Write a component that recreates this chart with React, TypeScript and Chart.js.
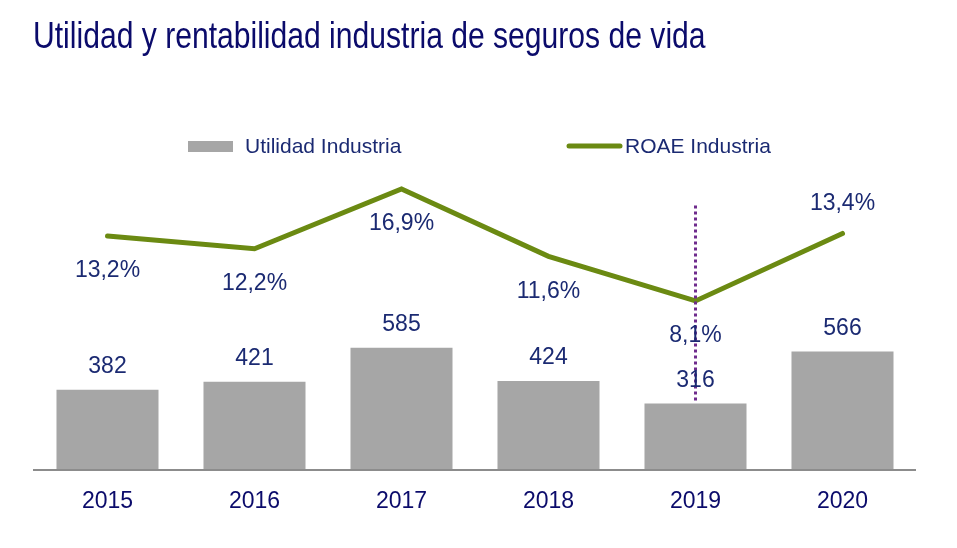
import React, { useEffect, useRef } from "react";
import { Chart, registerables } from "chart.js";

Chart.register(...registerables);

const years = ["2015", "2016", "2017", "2018", "2019", "2020"];
const utilidad = [382, 421, 585, 424, 316, 566];
const roae = [13.2, 12.2, 16.9, 11.6, 8.1, 13.4];
const roaeLabels = ["13,2%", "12,2%", "16,9%", "11,6%", "8,1%", "13,4%"];
const roaeLabelAbove = [false, false, false, false, false, true];
const markerIndex = 4;
const markerTopValue = 15.6;

const TITLE = "Utilidad y rentabilidad industria de seguros de vida";
const NAVY = "#1b2a72";
const TITLE_NAVY = "#0b0b6b";
const GREY = "#a6a6a6";
const GREEN = "#6b8a12";
const PURPLE = "#6e2b8c";
const SANS = "'Liberation Sans', Arial, sans-serif";

const overlay = {
  id: "overlay",
  afterDraw(chart: any) {
    const ctx = chart.ctx;
    const area = chart.chartArea;
    const xs = chart.scales.x;
    const y1 = chart.scales.y1;
    ctx.save();
    // title (condensed)
    ctx.save();
    ctx.fillStyle = TITLE_NAVY;
    ctx.font = `36px ${SANS}`;
    ctx.textAlign = "left";
    ctx.textBaseline = "alphabetic";
    ctx.translate(33, 48);
    ctx.scale(0.836, 1);
    ctx.fillText(TITLE, 0, 0);
    ctx.restore();

    // legend
    ctx.fillStyle = GREY;
    ctx.fillRect(188, 141, 45, 11);
    ctx.fillStyle = NAVY;
    ctx.font = `21px ${SANS}`;
    ctx.textAlign = "left";
    ctx.textBaseline = "middle";
    ctx.fillText("Utilidad Industria", 245, 147);
    ctx.strokeStyle = GREEN;
    ctx.lineWidth = 5;
    ctx.lineCap = "round";
    ctx.beginPath();
    ctx.moveTo(569, 146);
    ctx.lineTo(620, 146);
    ctx.stroke();
    ctx.fillText("ROAE Industria", 625, 147);

    // axis line
    ctx.strokeStyle = "#8c8c8c";
    ctx.lineWidth = 2;
    ctx.lineCap = "butt";
    ctx.beginPath();
    ctx.moveTo(area.left - 1, area.bottom + 1);
    ctx.lineTo(area.right, area.bottom + 1);
    ctx.stroke();

    // year labels
    ctx.fillStyle = TITLE_NAVY;
    ctx.font = `23px ${SANS}`;
    ctx.textAlign = "center";
    years.forEach((yr, i) => {
      ctx.fillText(yr, xs.getPixelForValue(i), 502);
    });

    // marker dotted line
    const barMeta = chart.getDatasetMeta(0);
    const mx = barMeta.data[markerIndex].x;
    ctx.strokeStyle = PURPLE;
    ctx.lineWidth = 3;
    ctx.setLineDash([3, 3]);
    ctx.beginPath();
    ctx.moveTo(mx, y1.getPixelForValue(markerTopValue));
    ctx.lineTo(mx, barMeta.data[markerIndex].y);
    ctx.stroke();
    ctx.setLineDash([]);

    // bar labels
    ctx.fillStyle = NAVY;
    ctx.font = `23px ${SANS}`;
    barMeta.data.forEach((el: any, i: number) => {
      ctx.fillText(String(utilidad[i]), el.x, el.y - 23);
    });
    // line labels
    const lineMeta = chart.getDatasetMeta(1);
    lineMeta.data.forEach((el: any, i: number) => {
      const dy = roaeLabelAbove[i] ? -30 : 35;
      ctx.fillText(roaeLabels[i], el.x, el.y + dy);
    });
    ctx.restore();
  },
};

export default function App() {
  const ref = useRef<HTMLCanvasElement>(null);
  useEffect(() => {
    if (!ref.current) return;
    const chart = new Chart(ref.current, {
      type: "bar",
      data: {
        labels: years,
        datasets: [
          {
            type: "bar",
            label: "Utilidad Industria",
            data: utilidad,
            backgroundColor: GREY,
            barPercentage: 0.694,
            categoryPercentage: 1,
            yAxisID: "y",
            order: 2,
          },
          {
            type: "line",
            label: "ROAE Industria",
            data: roae,
            borderColor: GREEN,
            borderWidth: 5,
            pointRadius: 0,
            borderCapStyle: "round",
            borderJoinStyle: "miter",
            tension: 0,
            yAxisID: "y1",
            order: 1,
          } as any,
        ],
      },
      options: {
        responsive: false,
        animation: false,
        devicePixelRatio: 1,
        layout: { padding: { left: 34, right: 41, top: 180, bottom: 79 } },
        plugins: { legend: { display: false }, title: { display: false }, tooltip: { enabled: false } },
        scales: {
          x: { display: false, offset: true, grid: { display: false } },
          y: { display: false, min: 0, max: 1393 },
          y1: { display: false, min: -5.1, max: 17.6 },
        },
      },
      plugins: [overlay],
    });
    return () => chart.destroy();
  }, []);
  return (
    <div style={{ position: "fixed", left: 0, top: 0, width: 957, height: 548, background: "#fff" }}>
      <canvas ref={ref} width={957} height={548} />
    </div>
  );
}
